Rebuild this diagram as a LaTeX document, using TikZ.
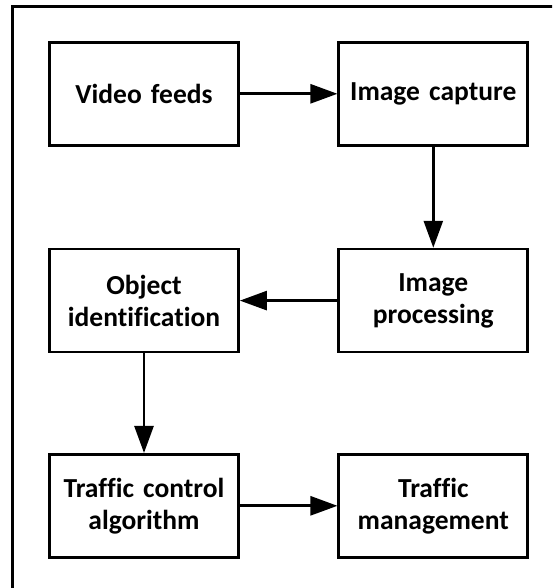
\documentclass[tikz,border=0pt]{standalone}
\usepackage{fontspec}
\setmainfont{Carlito}[Ligatures=NoCommon]
\usetikzlibrary{arrows.meta}

\tikzset{
  stage/.style={draw, line width=2.7pt, minimum width=189pt, minimum height=103pt,
    text width=185pt, align=center, inner sep=0pt,
    font=\fontsize{27.5}{32}\selectfont\bfseries},
  flow/.style={line width=2.7pt, -{Triangle[length=27pt, width=19pt]}}
}

\begin{document}
\begin{tikzpicture}[x=1pt, y=-1pt]
\useasboundingbox (0,0) rectangle (552,588);
\clip (0,0) rectangle (552,588);

% outer frame (right and bottom sides fall outside the page)
\draw[line width=3pt] (12.7,600) -- (12.7,7) -- (570,7);

% stages
\node[stage] (video)      at (144,93.8)   {Video feeds};
\node[stage] (capture)    at (433.3,93.8) {Image capture};
\node[stage] (processing) at (433.3,300.6) {Image\\processing};
\node[stage] (object)     at (144,300.6)  {Object\\identification};
\node[stage] (algorithm)  at (144,505.8)  {Traffic control\\algorithm};
\node[stage] (management) at (433.3,505.8) {Traffic\\management};

% flow between stages
\draw[flow] (video) -- (capture);
\draw[flow] (capture) -- (processing);
\draw[flow] (processing) -- (object);
\draw[flow] (object) -- (algorithm);
\draw[flow] (algorithm) -- (management);

\end{tikzpicture}
\end{document}
